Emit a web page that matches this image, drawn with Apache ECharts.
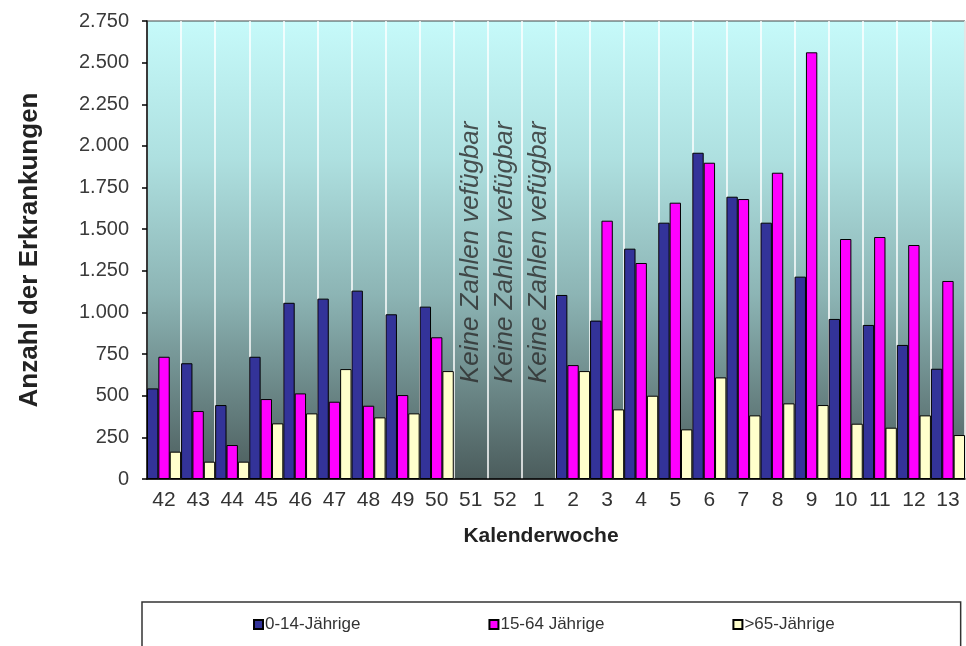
<!DOCTYPE html>
<html>
<head>
<meta charset="utf-8">
<title>Erkrankungen je Kalenderwoche</title>
<script src="https://cdn.jsdelivr.net/npm/echarts@6/dist/echarts.min.js"></script>
<style>
    html, body { margin: 0; padding: 0; background: #fff; }
    #chart { width: 966px; height: 646px; }
</style>
</head>
<body>
<div id="chart"></div>
<script>
// Kalenderwochen (42-52, 1-13)
var weeks = ['42', '43', '44', '45', '46', '47', '48', '49', '50', '51', '52', '1', '2', '3', '4', '5', '6', '7', '8', '9', '10', '11', '12', '13'];

// Werte (null = keine Zahlen)
var kids = [544, 695, 444, 734, 1058, 1083, 1131, 989, 1035, null, null, null, 1105, 951, 1383, 1539, 1959, 1695, 1539, 1215, 961, 925, 805, 662];
var adults = [734, 408, 204, 480, 514, 464, 440, 504, 851, null, null, null, 684, 1551, 1297, 1659, 1899, 1681, 1839, 2562, 1441, 1453, 1405, 1189];
var seniors = [164, 104, 104, 334, 394, 660, 370, 394, 648, null, null, null, 648, 418, 500, 298, 610, 382, 454, 444, 332, 308, 382, 264];

var seriesNames = ['0-14-Jährige', '15-64 Jährige', '>65-Jährige'];

// Wochen ohne Daten
var missingWeeks = ['51', '52', '1'];
var missingText = 'Keine Zahlen vefügbar';
var missingLevel = 1385;

var yTicks = { min: 0, max: 2750, step: 250 };

var myChart = echarts.init(document.getElementById('chart'));

function fmt(v) {
    // Tausenderpunkt
    return String(v).replace(/\B(?=(\d{3})+(?!\d))/g, '.');
}

function barSeries(name, data, color) {
    return {
        name: name,
        type: 'bar',
        data: data,
        barGap: '0%',
        barCategoryGap: '0%',
        itemStyle: {
            color: color,
            borderColor: '#000',
            borderWidth: 1
        }
    };
}

var option = {
    backgroundColor: '#fff',
    textStyle: { fontFamily: 'Liberation Sans, Arial, sans-serif' },
    grid: {
        left: 147,
        right: 1,
        top: 21,
        bottom: 167,
        show: true,
        borderColor: '#444',
        borderWidth: 1,
        backgroundColor: {
            type: 'linear', x: 0, y: 0, x2: 0, y2: 1,
            colorStops: [
                { offset: 0, color: '#c6fafa' },
                { offset: 0.3, color: '#aee0e0' },
                { offset: 0.6, color: '#8cb4b4' },
                { offset: 1, color: '#4b5c5c' }
            ]
        }
    },
    legend: {
        data: seriesNames,
        left: 142,
        top: 602,
        padding: [14, 126, 40, 111],
        itemGap: 128,
        itemWidth: 9,
        itemHeight: 9,
        icon: 'rect',
        borderColor: '#333',
        borderWidth: 1.5,
        borderRadius: 0,
        textStyle: {
            fontSize: 17,
            color: '#333',
            padding: [0, 0, 0, -3]
        }
    },
    xAxis: {
        type: 'category',
        data: weeks,
        name: 'Kalenderwoche',
        nameLocation: 'middle',
        nameGap: 47,
        nameTextStyle: {
            fontSize: 21,
            fontWeight: 'bold',
            color: '#222',
            padding: [0, 30, 0, 0]
        },
        axisLine: { lineStyle: { color: '#000', width: 1.5 } },
        axisTick: { length: 8, lineStyle: { color: '#000', width: 1.5 } },
        axisLabel: { fontSize: 21, color: '#333', margin: 11, interval: 0 },
        splitLine: { show: true, lineStyle: { color: '#fff', width: 1.5 } }
    },
    yAxis: {
        type: 'value',
        min: yTicks.min,
        max: yTicks.max,
        interval: yTicks.step,
        name: 'Anzahl der Erkrankungen',
        nameLocation: 'middle',
        nameGap: 104,
        nameTextStyle: { fontSize: 26, fontWeight: 'bold', color: '#222' },
        axisLine: { show: true, lineStyle: { color: '#000', width: 1.5 } },
        axisTick: { show: true, length: 5, lineStyle: { color: '#000', width: 1.5 } },
        axisLabel: { fontSize: 20, color: '#3a3a3a', margin: 18, formatter: fmt },
        splitLine: { show: false }
    },
    series: [
        barSeries(seriesNames[0], kids, '#333399'),
        barSeries(seriesNames[1], adults, '#ff00ff'),
        barSeries(seriesNames[2], seniors, '#ffffcc'),
        {
            name: 'hinweis',
            type: 'scatter',
            symbolSize: 0,
            silent: true,
            data: missingWeeks.map(function (w) { return [w, missingLevel]; }),
            label: {
                show: true,
                position: 'inside',
                rotate: 90,
                offset: [-4, 0],
                formatter: missingText,
                fontSize: 26,
                fontStyle: 'italic',
                color: '#2a2a2a'
            }
        }
    ]
};

myChart.setOption(option);
</script>
</body>
</html>
